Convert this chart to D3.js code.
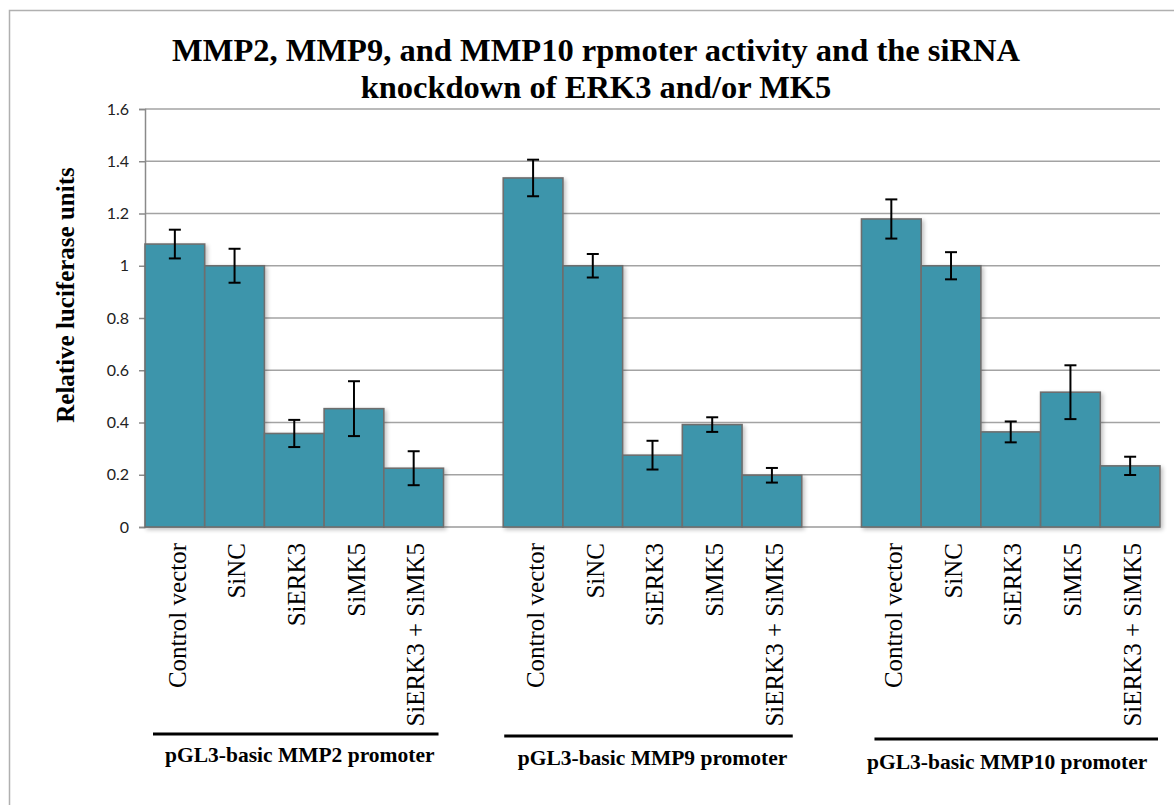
<!DOCTYPE html>
<html>
<head>
<meta charset="utf-8">
<script src="https://cdn.jsdelivr.net/npm/d3@7"></script>
<style>
  html, body { margin: 0; padding: 0; background: #fff; }
  svg { display: block; }
</style>
</head>
<body>
<svg id="chart" width="1174" height="805"></svg>
<script>
// ---- data ----
const categories = ["Control vector", "SiNC", "SiERK3", "SiMK5", "SiERK3 + SiMK5"];
const groups = ["pGL3-basic MMP2 promoter", "pGL3-basic MMP9 promoter", "pGL3-basic MMP10 promoter"];
const mmp2Values  = [1.083, 1.000, 0.358, 0.453, 0.225];
const mmp2Errors  = [0.055, 0.065, 0.052, 0.105, 0.065];
const mmp9Values  = [1.336, 1.000, 0.275, 0.392, 0.198];
const mmp9Errors  = [0.070, 0.045, 0.055, 0.028, 0.028];
const mmp10Values = [1.179, 1.000, 0.364, 0.516, 0.234];
const mmp10Errors = [0.075, 0.052, 0.040, 0.103, 0.035];
const yTicks = [0, 0.2, 0.4, 0.6, 0.8, 1, 1.2, 1.4, 1.6];
const titleLines = ["MMP2, MMP9, and MMP10 rpmoter activity and the siRNA", "knockdown of ERK3 and/or MK5"];
const yTitle = "Relative luciferase units";

(function () {
// ---- build table ----
const seriesValues = [mmp2Values, mmp9Values, mmp10Values];
const seriesErrors = [mmp2Errors, mmp9Errors, mmp10Errors];
const rows = [];
const slots = [];
groups.forEach((g, gi) => {
  if (gi > 0) slots.push("gap" + gi);
  categories.forEach((c, ci) => {
    const key = gi + "|" + c;
    slots.push(key);
    rows.push({ key, group: gi, cat: c, value: seriesValues[gi][ci], err: seriesErrors[gi][ci] });
  });
});

const svg = d3.select("#chart");
const pLeft = 145, pRight = 1160, pTop = 109, pBottom = 527;

const x = d3.scaleBand().domain(slots).range([pLeft, pRight]).padding(0);
const y = d3.scaleLinear().domain([0, 1.6]).range([pBottom, pTop]);

// outer frame (partially visible)
svg.append("path")
  .attr("d", `M9.5,805 L9.5,10.5 L1174,10.5`)
  .attr("fill", "none").attr("stroke", "#b0b0b0").attr("stroke-width", 1.5);

// gridlines
svg.append("g").selectAll("line").data(yTicks.filter(d => d > 0)).join("line")
  .attr("x1", pLeft).attr("x2", pRight)
  .attr("y1", d => y(d)).attr("y2", d => y(d))
  .attr("stroke", "#a3a3a3").attr("stroke-width", 1.5);

// y axis
const yAxis = d3.axisLeft(y).tickValues(yTicks).tickSize(6).tickPadding(10)
  .tickFormat(d => d3.format("")(+d.toFixed(1)));
const ya = svg.append("g").attr("transform", `translate(${pLeft},0)`).call(yAxis);
ya.select(".domain").attr("stroke", "#8a8a8a").attr("stroke-width", 1.5);
ya.selectAll(".tick line").attr("stroke", "#8a8a8a").attr("stroke-width", 1.5);
ya.selectAll(".tick text")
  .attr("font-family", "Lato, 'Open Sans', sans-serif")
  .attr("font-size", 16).attr("fill", "#222");

// baseline
svg.append("line").attr("x1", pLeft).attr("x2", pRight)
  .attr("y1", y(0)).attr("y2", y(0))
  .attr("stroke", "#9a9a9a").attr("stroke-width", 1.5);

// shadow filter
const defs = svg.append("defs");
const f = defs.append("filter").attr("id", "sh").attr("x", "-10%").attr("y", "-10%").attr("width", "130%").attr("height", "130%");
f.append("feGaussianBlur").attr("in", "SourceAlpha").attr("stdDeviation", 2);
f.append("feOffset").attr("dx", 2).attr("dy", 2).attr("result", "ob");
f.append("feComponentTransfer").append("feFuncA").attr("type", "linear").attr("slope", 0.25);
const fm = f.append("feMerge");
fm.append("feMergeNode");
fm.append("feMergeNode").attr("in", "SourceGraphic");

// bars
svg.append("g").attr("filter", "url(#sh)").selectAll("rect").data(rows).join("rect")
  .attr("x", d => x(d.key))
  .attr("width", x.bandwidth())
  .attr("y", d => y(d.value))
  .attr("height", d => y(0) - y(d.value))
  .attr("fill", "#3d95ab")
  .attr("stroke", "#6e6e6e").attr("stroke-width", 1.6);

// error bars
const eb = svg.append("g").attr("stroke", "#000").attr("stroke-width", 2);
rows.forEach(d => {
  const cx = x(d.key) + x.bandwidth() / 2;
  const y1 = y(d.value + d.err), y2 = y(d.value - d.err);
  eb.append("line").attr("x1", cx).attr("x2", cx).attr("y1", y1).attr("y2", y2);
  eb.append("line").attr("x1", cx - 6).attr("x2", cx + 6).attr("y1", y1).attr("y2", y1);
  eb.append("line").attr("x1", cx - 6).attr("x2", cx + 6).attr("y1", y2).attr("y2", y2);
});

// category labels (rotated)
svg.append("g").selectAll("text").data(rows).join("text")
  .attr("transform", d => `translate(${x(d.key) + x.bandwidth() / 2 + 2},543) rotate(-90)`)
  .attr("text-anchor", "end").attr("dy", "0.35em")
  .attr("font-family", "'Liberation Serif', 'Times New Roman', serif")
  .attr("font-size", 25).attr("fill", "#000")
  .text(d => d.cat);

// group lines and labels
const groupLayout = [
  { l: 8, r: -5, ly: 734, ty: 762, tx: 4 },
  { l: 1, r: -9, ly: 736, ty: 765, tx: 4 },
  { l: 13, r: -2, ly: 739, ty: 769, tx: -9 }
];
groups.forEach((g, gi) => {
  const x0 = x(gi + "|" + categories[0]);
  const x1 = x(gi + "|" + categories[categories.length - 1]) + x.bandwidth();
  const L = groupLayout[gi];
  svg.append("line").attr("x1", x0 + L.l).attr("x2", x1 + L.r)
    .attr("y1", L.ly).attr("y2", L.ly).attr("stroke", "#000").attr("stroke-width", 3);
  svg.append("text")
    .attr("x", (x0 + L.l + x1 + L.r) / 2 + L.tx).attr("y", L.ty)
    .attr("text-anchor", "middle")
    .attr("font-family", "'Liberation Serif', 'Times New Roman', serif")
    .attr("font-weight", "bold").attr("font-size", 21.5).attr("fill", "#000")
    .text(g);
});

// y title
svg.append("text")
  .attr("transform", `translate(74,295) rotate(-90)`)
  .attr("text-anchor", "middle")
  .attr("font-family", "'Liberation Serif', 'Times New Roman', serif")
  .attr("font-weight", "bold").attr("font-size", 25).attr("fill", "#000")
  .text(yTitle);

// title
svg.append("g").selectAll("text").data(titleLines).join("text")
  .attr("x", 596).attr("y", (d, i) => 61 + i * 37)
  .attr("text-anchor", "middle")
  .attr("font-family", "'Liberation Serif', 'Times New Roman', serif")
  .attr("font-weight", "bold").attr("font-size", 32.5).attr("fill", "#000")
  .text(d => d);
})();
</script>
</body>
</html>
